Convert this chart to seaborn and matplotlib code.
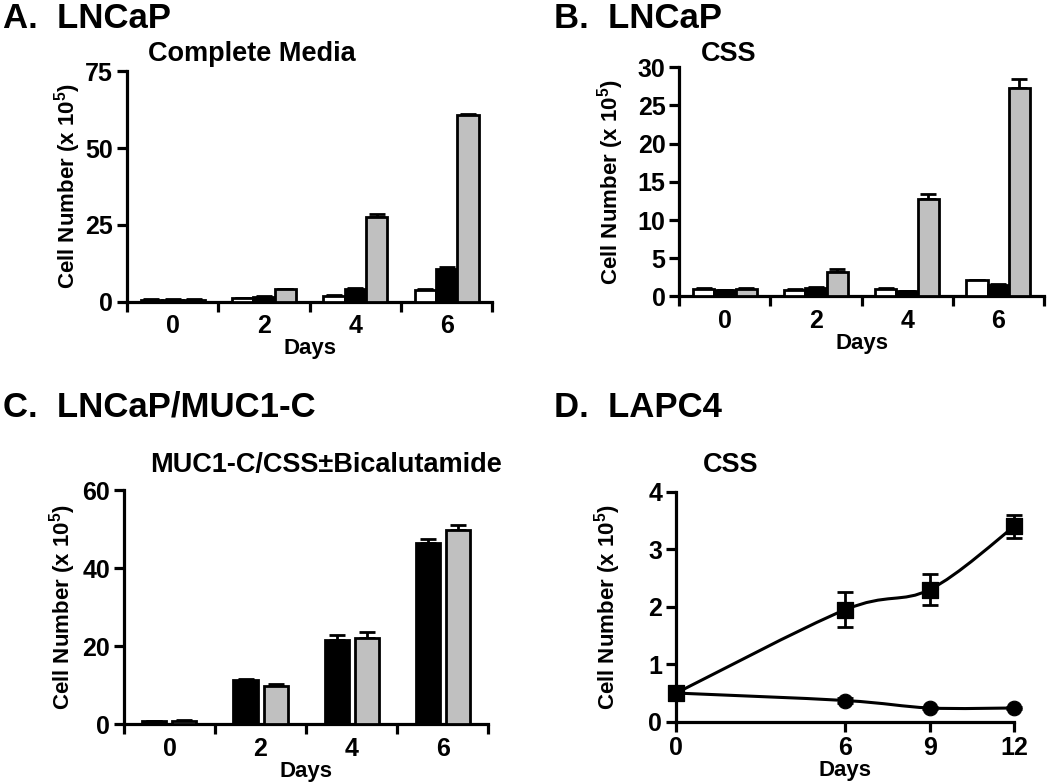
import numpy as np
import pandas as pd
import matplotlib
matplotlib.use("Agg")
import matplotlib.pyplot as plt
from matplotlib.path import Path
from matplotlib.patches import PathPatch
import seaborn as sns

# ---- data ----
days_bar = ["0", "2", "4", "6"]

# panel A: LNCaP, complete media (white / black / gray bars)
a_white = [0.7, 1.3, 2.0, 3.9]
a_black = [0.7, 1.6, 4.2, 10.8]
a_gray = [0.7, 4.1, 27.6, 60.6]
a_white_err = [0.1, 0.1, 0.2, 0.2]
a_black_err = [0.1, 0.2, 0.4, 0.5]
a_gray_err = [0.1, 0.2, 0.9, 0.4]

# panel B: LNCaP, CSS
b_white = [1.0, 0.9, 1.0, 2.1]
b_black = [0.8, 1.1, 0.7, 1.5]
b_gray = [1.0, 3.2, 12.7, 27.3]
b_white_err = [0.05, 0.05, 0.05, 0.1]
b_black_err = [0.05, 0.1, 0.05, 0.1]
b_gray_err = [0.05, 0.4, 0.7, 1.1]

# panel C: LNCaP/MUC1-C, CSS +/- bicalutamide
c_black = [0.8, 11.2, 21.6, 46.4]
c_gray = [0.9, 9.9, 22.0, 49.7]
c_black_err = [0.1, 0.3, 1.3, 1.0]
c_gray_err = [0.1, 0.3, 1.7, 1.4]

# panel D: LAPC4, CSS (line plot)
d_days = [0, 6, 9, 12]
d_square = [0.5, 1.95, 2.3, 3.4]
d_square_err = [0.02, 0.3, 0.27, 0.2]
d_circle = [0.5, 0.37, 0.24, 0.24]
d_circle_err = [0.02, 0.05, 0.02, 0.02]

sns.set_theme(style="ticks")
plt.rcParams["font.family"] = ["Liberation Sans", "DejaVu Sans"]
plt.rcParams["font.weight"] = "bold"
plt.rcParams["axes.labelweight"] = "bold"
plt.rcParams["text.color"] = "black"
plt.rcParams["axes.labelcolor"] = "black"
plt.rcParams["mathtext.fontset"] = "custom"
plt.rcParams["mathtext.rm"] = "Liberation Sans:bold"
plt.rcParams["mathtext.bf"] = "Liberation Sans:bold"
plt.rcParams["mathtext.default"] = "bf"

FS = 16      # axis labels
TFS = 18     # tick labels
LW = 2.3
ylab = r"Cell Number (x 10$^{5}$)"

fig = plt.figure(figsize=(10.5, 7.82), dpi=100)
axA = fig.add_axes([0.121, 0.614, 0.348, 0.295])
axB = fig.add_axes([0.647, 0.621, 0.347, 0.293])
axC = fig.add_axes([0.118, 0.074, 0.347, 0.299])
axD = fig.add_axes([0.644, 0.077, 0.322, 0.294])


def style_axes(ax, ypad):
    sns.despine(ax=ax)
    for s in ["left", "bottom"]:
        ax.spines[s].set_linewidth(LW)
        ax.spines[s].set_color("black")
    ax.tick_params(axis="both", which="both", width=LW, length=7,
                   labelsize=TFS, colors="black", direction="out", pad=3)
    ax.set_ylabel(ylab, fontsize=FS, color="black", labelpad=ypad)
    ax.set_xlabel("Days", fontsize=FS, color="black", labelpad=0)


def bar_panel(ax, series, errs, colors, width, gap, ymax, yticks, ypad):
    names = [f"s{i}" for i in range(len(series))]
    df = pd.DataFrame({
        "day": np.repeat([days_bar], len(series), axis=0).ravel(),
        "grp": np.repeat(names, len(days_bar)),
        "val": np.concatenate(series),
    })
    sns.barplot(data=df, x="day", y="val", hue="grp", palette=colors,
                width=width, gap=gap, saturation=1, edgecolor="black",
                linewidth=2, errorbar=None, legend=False, ax=ax, zorder=3)
    for cont, err in zip(ax.containers, errs):
        xs = [b.get_x() + b.get_width() / 2 for b in cont]
        ys = [b.get_height() for b in cont]
        ax.errorbar(xs, ys, yerr=[np.zeros(len(err)), err], fmt="none",
                    ecolor="black", elinewidth=2, capsize=6, capthick=2,
                    zorder=2)
    ax.set_xlim(-0.5, 3.5)
    ax.set_ylim(0, ymax)
    ax.set_yticks(yticks)
    ax.set_xticks(np.arange(-0.5, 4, 1))
    ax.set_xticklabels([])
    ax.set_xticks(range(4), minor=True)
    ax.set_xticklabels(days_bar, minor=True)
    style_axes(ax, ypad)
    ax.tick_params(axis="x", which="minor", length=0, pad=9)


bar_panel(axA, [a_white, a_black, a_gray], [a_white_err, a_black_err, a_gray_err],
          ["white", "black", "#c0c0c0"], 0.7, 0, 75, [0, 25, 50, 75], 2)
bar_panel(axB, [b_white, b_black, b_gray], [b_white_err, b_black_err, b_gray_err],
          ["white", "black", "#c0c0c0"], 0.7, 0, 30, [0, 5, 10, 15, 20, 25, 30], 8)
bar_panel(axC, [c_black, c_gray], [c_black_err, c_gray_err],
          ["black", "#c0c0c0"], 0.66, 0.2, 60, [0, 20, 40, 60], 3)


def smooth_path(xs, ys):
    # Catmull-Rom spline through the points, as cubic Bezier segments
    p = np.column_stack([xs, ys]).astype(float)
    ext = np.vstack([p[0], p, p[-1]])
    verts = [p[0]]
    codes = [Path.MOVETO]
    for i in range(len(p) - 1):
        p0, p1, p2, p3 = ext[i], ext[i + 1], ext[i + 2], ext[i + 3]
        verts += [p1 + (p2 - p0) / 6, p2 - (p3 - p1) / 6, p2]
        codes += [Path.CURVE4] * 3
    return Path(verts, codes)


for vals, errs, mk, ms in [(d_square, d_square_err, "s", 130),
                           (d_circle, d_circle_err, "o", 110)]:
    axD.add_patch(PathPatch(smooth_path(d_days, vals), fill=False,
                            edgecolor="black", lw=2.2, clip_on=False))
    axD.errorbar(d_days, vals, yerr=errs, fmt="none", ecolor="black",
                 elinewidth=2, capsize=6, capthick=2, clip_on=False)
    sns.scatterplot(x=d_days, y=vals, marker=mk, s=ms, color="black",
                    edgecolor="black", ax=axD, clip_on=False, zorder=4)
axD.set_xlim(0, 12)
axD.set_ylim(0, 4)
axD.set_xticks(d_days)
axD.set_yticks([0, 1, 2, 3, 4])
style_axes(axD, 18)

# panel letters and titles
for x, y, t in [(0.003, 0.964, "A.  LNCaP"), (0.528, 0.964, "B.  LNCaP"),
                (0.003, 0.467, "C.  LNCaP/MUC1-C"), (0.528, 0.467, "D.  LAPC4")]:
    fig.text(x, y, t, fontsize=25, fontweight="bold", va="baseline", ha="left")

for x, y, t in [(0.240, 0.922, "Complete Media"), (0.694, 0.922, "CSS"),
                (0.310, 0.396, "MUC1-C/CSS±Bicalutamide"), (0.696, 0.396, "CSS")]:
    fig.text(x, y, t, fontsize=19.5, fontweight="bold", va="baseline", ha="center")

fig.savefig("out.png", dpi=100)
